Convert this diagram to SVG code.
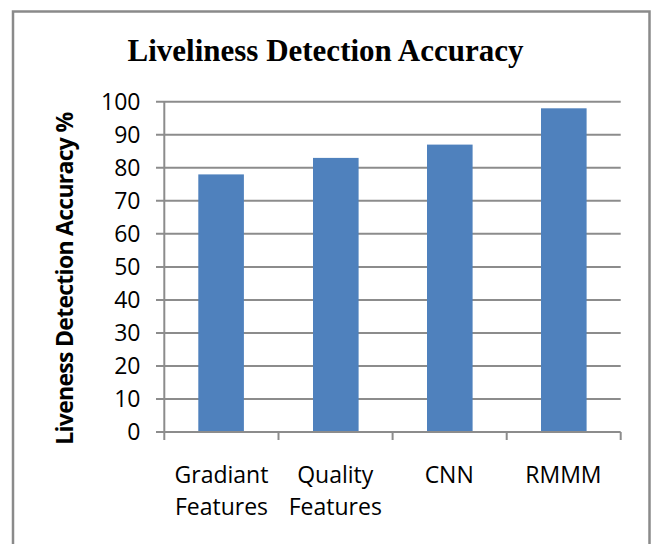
<svg xmlns="http://www.w3.org/2000/svg" width="651" height="544" viewBox="0 0 651 544">
<style>
.grid{stroke:#8c8c8c;stroke-width:2;fill:none}
.bar{fill:#4f81bd}
.tick{font-family:"Open Sans","Noto Sans",sans-serif;font-size:23px;fill:#000;text-anchor:end}
.cat{font-family:"Open Sans","Noto Sans",sans-serif;font-size:23px;fill:#000;text-anchor:middle}
.title{font-family:"Liberation Serif","Times New Roman",serif;font-size:31px;font-weight:bold;fill:#000;text-anchor:middle}
.ytitle{font-family:"Open Sans","Noto Sans",sans-serif;font-size:23px;font-weight:bold;fill:#000;text-anchor:middle}
</style>
<rect x="0" y="0" width="651" height="544" fill="#fff"/>
<rect id="frame" x="13" y="11.5" width="636.5" height="600" fill="none" stroke="#8a8a8a" stroke-width="2.5"/>
<text id="title" class="title" x="325.5" y="61">Liveliness Detection Accuracy</text>
<g id="gridlines">
<line class="grid" x1="156" y1="101.7" x2="620.7" y2="101.7"/>
<line class="grid" x1="156" y1="134.7" x2="620.7" y2="134.7"/>
<line class="grid" x1="156" y1="167.8" x2="620.7" y2="167.8"/>
<line class="grid" x1="156" y1="200.8" x2="620.7" y2="200.8"/>
<line class="grid" x1="156" y1="233.8" x2="620.7" y2="233.8"/>
<line class="grid" x1="156" y1="266.9" x2="620.7" y2="266.9"/>
<line class="grid" x1="156" y1="299.9" x2="620.7" y2="299.9"/>
<line class="grid" x1="156" y1="332.9" x2="620.7" y2="332.9"/>
<line class="grid" x1="156" y1="365.9" x2="620.7" y2="365.9"/>
<line class="grid" x1="156" y1="399" x2="620.7" y2="399"/>
</g>
<g id="bars">
<rect id="bar-gradiant" class="bar" x="198.3" y="174.4" width="45.6" height="257.6"/>
<rect id="bar-quality" class="bar" x="313" y="157.9" width="45.6" height="274.1"/>
<rect id="bar-cnn" class="bar" x="427" y="144.6" width="45.6" height="287.4"/>
<rect id="bar-rmmm" class="bar" x="541" y="108.3" width="45.6" height="323.7"/>
</g>
<g id="axes">
<line class="grid" x1="156" y1="432" x2="620.7" y2="432"/>
<line class="grid" x1="164.3" y1="101.7" x2="164.3" y2="440"/>
<line class="grid" x1="278.5" y1="432" x2="278.5" y2="440"/>
<line class="grid" x1="392.6" y1="432" x2="392.6" y2="440"/>
<line class="grid" x1="506.7" y1="432" x2="506.7" y2="440"/>
<line class="grid" x1="620.7" y1="432" x2="620.7" y2="440"/>
</g>
<g id="y-labels">
<text class="tick" x="140.5" y="109.9">100</text>
<text class="tick" x="140.5" y="142.9">90</text>
<text class="tick" x="140.5" y="176">80</text>
<text class="tick" x="140.5" y="209">70</text>
<text class="tick" x="140.5" y="242">60</text>
<text class="tick" x="140.5" y="275.1">50</text>
<text class="tick" x="140.5" y="308.1">40</text>
<text class="tick" x="140.5" y="341.1">30</text>
<text class="tick" x="140.5" y="374.1">20</text>
<text class="tick" x="140.5" y="407.2">10</text>
<text class="tick" x="140.5" y="440.2">0</text>
</g>
<g id="x-labels">
<text class="cat" x="221.5" y="483.3">Gradiant</text>
<text class="cat" x="221.5" y="515">Features</text>
<text class="cat" x="335.3" y="483.3">Quality</text>
<text class="cat" x="335.3" y="515">Features</text>
<text class="cat" x="449.2" y="483.3">CNN</text>
<text class="cat" x="563.4" y="483.3">RMMM</text>
</g>
<text id="y-title" class="ytitle" transform="translate(72.5,278.3) rotate(-90)" x="0" y="0" textLength="333">Liveness Detection Accuracy %</text>
</svg>
